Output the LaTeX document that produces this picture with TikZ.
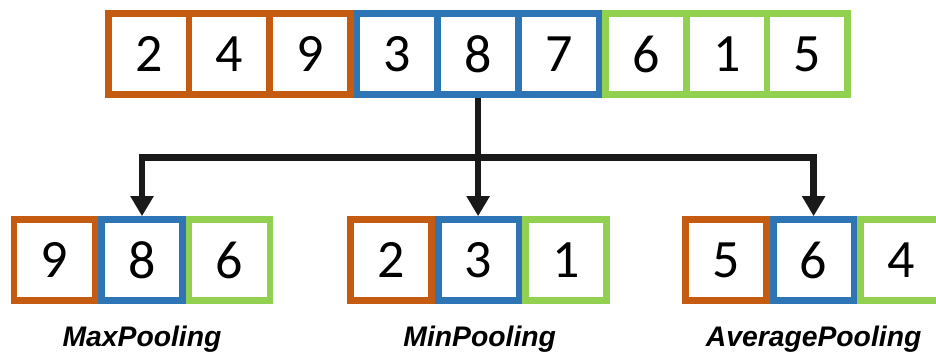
\documentclass[tikz,border=0pt]{standalone}
\usepackage{fontspec}
\setmainfont{Carlito}
\newfontfamily\labfont{Liberation Sans}
\usetikzlibrary{arrows.meta}

\definecolor{poolorange}{HTML}{C55A11}
\definecolor{poolblue}{HTML}{2E75B6}
\definecolor{poolgreen}{HTML}{92D050}

\tikzset{
  cell/.style={draw, line width=6.7pt, fill=white, inner sep=0pt,
    minimum width=80.7pt, minimum height=81.3pt,
    font=\fontsize{54}{54}\selectfont},
  ocell/.style={cell, draw=poolorange},
  bcell/.style={cell, draw=poolblue},
  gcell/.style={cell, draw=poolgreen},
  link/.style={line width=6.6pt, draw=black!90},
  head/.style={-{Triangle[width=22pt,length=20pt]}},
  poolname/.style={anchor=base, font=\labfont\bfseries\itshape\fontsize{28.3}{30}\selectfont},
}

\begin{document}
\begin{tikzpicture}[x=1pt, y=-1pt]
  \useasboundingbox (0,0) rectangle (936,352);
  \clip (0,0) rectangle (936,352);

  % input sequence, three windows of three values
  \node[ocell] (t1) at (148.7,54) {2};
  \node[ocell] (t2) at (229.4,54) {4};
  \node[ocell] (t3) at (310.0,54) {9};
  \node[bcell] (t4) at (397.4,54) {3};
  \node[bcell] (t5) at (478.1,54) {8};
  \node[bcell] (t6) at (558.7,54) {7};
  \node[gcell] (t7) at (646.1,54) {6};
  \node[gcell] (t8) at (726.8,54) {1};
  \node[gcell] (t9) at (807.4,54) {5};

  % pooled outputs
  \node[ocell, minimum width=80.8pt] (a1) at (54.5,260.2) {9};
  \node[bcell, minimum width=80.8pt] (a2) at (142.0,260.2) {8};
  \node[gcell, minimum width=80.8pt] (a3) at (229.5,260.2) {6};

  \node[ocell, minimum width=80.8pt] (b1) at (391.1,260.2) {2};
  \node[bcell, minimum width=80.8pt] (b2) at (478.6,260.2) {3};
  \node[gcell, minimum width=80.8pt] (b3) at (566.1,260.2) {1};

  \node[ocell, minimum width=80.8pt] (c1) at (726.1,260.2) {5};
  \node[bcell, minimum width=80.8pt] (c2) at (813.6,260.2) {6};
  \node[gcell, minimum width=80.8pt] (c3) at (901.1,260.2) {4};

  % connectors
  \coordinate (hub) at (478.1,157.3);
  \draw[link, head] (t5.south) -- (t5.south |- b2.north);
  \draw[link, {Triangle[width=22pt,length=20pt]}-{Triangle[width=22pt,length=20pt]}]
    (a2.north) |- (hub) -| (c2.north);

  % labels
  \node[poolname] (la) at (142.0,346) {MaxPooling};
  \node[poolname] (lb) at (479.7,346) {MinPooling};
  \node[poolname] (lc) at (813.6,346) {AveragePooling};
\end{tikzpicture}
\end{document}
